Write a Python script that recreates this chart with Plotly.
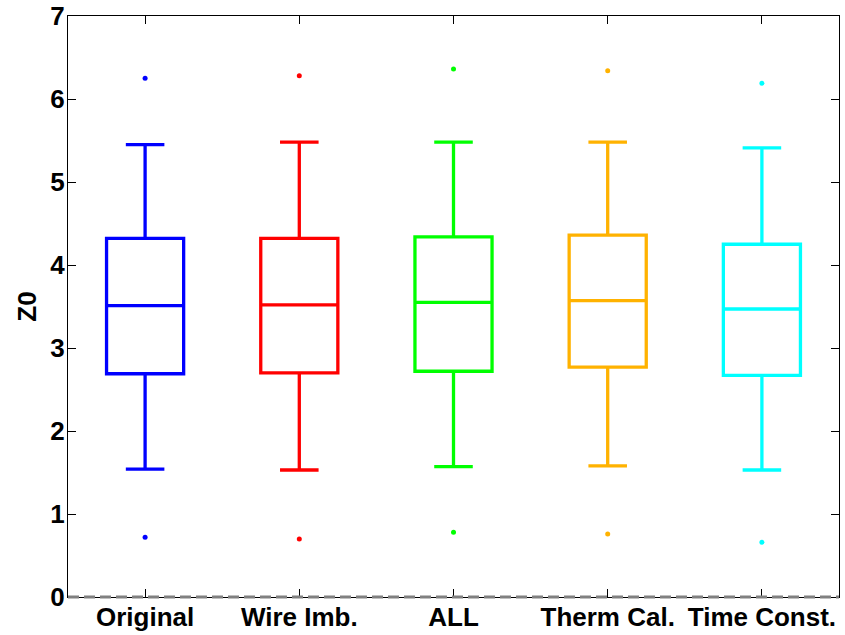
import plotly.graph_objects as go

# Box-plot statistics for Z0 per processing variant
categories = ["Original", "Wire Imb.", "ALL", "Therm Cal.", "Time Const."]
colors = ["#0000FF", "#FF0000", "#00FF00", "#FFB200", "#00FFFF"]

upper_whisker = [5.45, 5.48, 5.48, 5.48, 5.41]
q3 = [4.32, 4.32, 4.34, 4.36, 4.25]
median = [3.51, 3.52, 3.55, 3.57, 3.47]
q1 = [2.69, 2.70, 2.72, 2.77, 2.67]
lower_whisker = [1.54, 1.53, 1.57, 1.58, 1.53]
outlier_high = [6.25, 6.28, 6.36, 6.34, 6.19]
outlier_low = [0.72, 0.70, 0.78, 0.76, 0.66]

y_ticks = [0, 1, 2, 3, 4, 5, 6, 7]

fig = go.Figure()

for i, name in enumerate(categories):
    fig.add_trace(go.Box(
        x=[name],
        q1=[q1[i]], median=[median[i]], q3=[q3[i]],
        lowerfence=[lower_whisker[i]], upperfence=[upper_whisker[i]],
        width=0.5, whiskerwidth=0.5,
        line=dict(color=colors[i], width=3.3),
        fillcolor="rgba(0,0,0,0)",
        boxpoints=False, showlegend=False, hoverinfo="skip",
    ))
    fig.add_trace(go.Scatter(
        x=[name, name], y=[outlier_high[i], outlier_low[i]],
        mode="markers", marker=dict(color=colors[i], size=5),
        showlegend=False, hoverinfo="skip",
    ))

# grey dashed baseline along the bottom edge of the axes
fig.add_shape(type="line", xref="paper", x0=0, x1=1, yref="paper", y0=0, y1=0,
              line=dict(color="#808080", width=3, dash="11px,5px"), layer="above")

tick_font = dict(family="Liberation Sans, Arial, sans-serif", size=26,
                 color="black", weight="bold")

fig.update_layout(
    width=845, height=635,
    margin=dict(l=68, r=6, t=16, b=38, autoexpand=False),
    paper_bgcolor="white", plot_bgcolor="white",
    font=tick_font,
    xaxis=dict(
        type="category", categoryorder="array", categoryarray=categories,
        range=[-0.5, 4.5], showline=True, linecolor="black", linewidth=1,
        mirror="ticks", ticks="inside", ticklen=8, tickcolor="black",
        showgrid=False, zeroline=False, tickfont=tick_font, automargin=False,
        ticklabelstandoff=-3,
    ),
    yaxis=dict(
        range=[0, 7], tickvals=y_ticks, showline=True, linecolor="black",
        linewidth=1, mirror="ticks", ticks="inside", ticklen=8,
        tickcolor="black", showgrid=False, zeroline=False, tickfont=tick_font,
        ticklabelstandoff=-3, automargin=False,
        title=dict(text="Z0", font=tick_font, standoff=6),
    ),
)

fig.write_html("out.html")
